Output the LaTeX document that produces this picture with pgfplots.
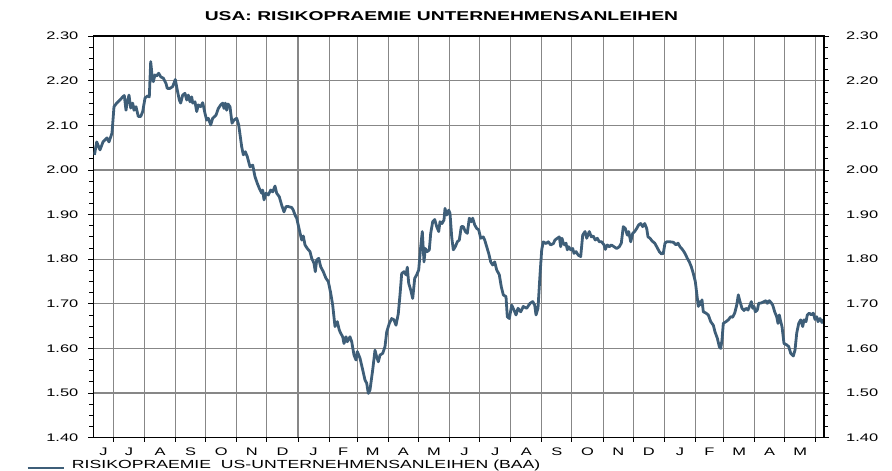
\documentclass[border=0pt]{standalone}
\usepackage{fontspec}
\setmainfont{Liberation Sans}
\usepackage{graphicx}
\usepackage{pgfplots}
\pgfplotsset{compat=1.18}
\definecolor{serie}{RGB}{62,94,120}
\definecolor{gridc}{RGB}{135,135,135}
\newcommand\hs[1]{\scalebox{1.5}[1]{#1}}
\begin{document}
\begin{tikzpicture}
\useasboundingbox (-93.5bp,-33.4bp) rectangle (798.5bp,437.6bp);
\begin{axis}[
  at={(0,0)}, anchor=south west,
  scale only axis, width=730.5bp, height=401.4bp,
  xmin=93.5, xmax=824, ymin=1.4, ymax=2.3,
  axis line style={line width=1.6bp, black},
  tick align=outside,
  xtick pos=bottom, ytick pos=left,
  xtick={103.4,128.9,160.0,190.6,221.2,251.8,282.5,313.6,343.2,372.8,403.4,434.0,464.6,495.2,526.3,556.9,587.5,618.2,648.8,679.9,709.5,739.1,769.7,800.3},
  xticklabels={\hs{J},\hs{J},\hs{A},\hs{S},\hs{O},\hs{N},\hs{D},\hs{J},\hs{F},\hs{M},\hs{A},\hs{M},\hs{J},\hs{J},\hs{A},\hs{S},\hs{O},\hs{N},\hs{D},\hs{J},\hs{F},\hs{M},\hs{A},\hs{M}},
  major x tick style={draw=none},
  minor xtick={113.3,144.4,175.5,205.6,236.7,266.9,298.0,329.1,357.2,388.3,418.4,449.5,479.6,510.7,541.8,571.9,603.1,633.2,664.3,695.4,723.5,754.6,784.7,815.8},
  xminorgrids=true, ymajorgrids=true,
  grid style={gridc, line width=1.1bp},
  minor grid style={gridc, line width=1.1bp},
  ytick={1.4,1.5,...,2.31},
  minor y tick num=3,
  major tick length=5bp, minor tick length=4bp,
  every tick/.style={black, line width=0.9bp},
  every minor tick/.style={black, line width=0.9bp},
  yticklabel={\hs{\pgfmathprintnumber[fixed,fixed zerofill,precision=2,assume math mode=true]{\tick}}},
  yticklabel style={font=\fontsize{11}{13}\selectfont, inner sep=0pt, anchor=east, xshift=-10bp},
  xticklabel style={font=\fontsize{11}{13}\selectfont, inner sep=0pt, anchor=north, yshift=-5bp},
  legend style={draw=none, fill=none, at={(-0.0924,-0.0683)}, anchor=west, inner sep=0pt,
    font=\fontsize{11.8}{14}\selectfont, column sep=7bp, nodes={inner sep=0pt}},
  legend cell align=left,
  legend image code/.code={\draw[#1] (0bp,-3bp) -- (36bp,-3bp); \path (0bp,3bp);},
]
\addplot[serie, line width=2.8bp, line join=round] coordinates {
(94.5,2.034)(96.7,2.063)(100,2.045)(103,2.063)(107,2.072)(109,2.063)(110.7,2.074)(112,2.083)(114,2.142)(116.7,2.150)(120,2.157)(122.7,2.164)(124.3,2.167)(126,2.134)(127,2.150)(129,2.168)(130.7,2.139)(132.7,2.150)(134,2.134)(136,2.142)(138.3,2.120)(140.7,2.120)(142.7,2.131)(145,2.161)(147.3,2.166)(149.3,2.164)(150.7,2.243)(152,2.213)(153.3,2.198)(155,2.213)(156.7,2.211)(158.7,2.217)(160.7,2.209)(163.3,2.206)(166,2.194)(167.3,2.183)(170,2.183)(172.7,2.187)(175.3,2.203)(177.3,2.179)(179.3,2.157)(180.7,2.150)(182.7,2.168)(185,2.172)(186.7,2.157)(188.3,2.168)(190,2.153)(191.7,2.164)(192.7,2.150)(195,2.153)(196.7,2.131)(198.3,2.146)(200.7,2.142)(202.7,2.151)(205,2.127)(206.7,2.112)(208.3,2.116)(210.7,2.101)(212.7,2.116)(216,2.123)(218.3,2.138)(220.7,2.146)(222.7,2.150)(224,2.138)(225.3,2.150)(226.7,2.134)(228,2.148)(230,2.142)(232,2.105)(234,2.112)(236.7,2.116)(238.7,2.101)(241.7,2.052)(243.3,2.034)(245.3,2.041)(247.3,2.030)(250,2.007)(252.7,2.011)(255,1.985)(257.3,1.970)(259.3,1.959)(261.7,1.948)(262.7,1.955)(264,1.933)(266,1.948)(268.3,1.944)(270.7,1.955)(272.7,1.951)(275,1.964)(276.7,1.948)(279.3,1.940)(281.7,1.921)(284,1.906)(286,1.918)(288.3,1.918)(291.7,1.916)(293.3,1.910)(295,1.899)(296.7,1.892)(299.3,1.866)(301.7,1.843)(303.3,1.852)(305,1.832)(307.3,1.824)(310,1.817)(311.7,1.802)(314,1.791)(315.3,1.772)(316.7,1.798)(318.7,1.802)(320.7,1.783)(323.3,1.772)(326,1.757)(328.3,1.750)(330.7,1.724)(332.7,1.697)(335,1.649)(337.3,1.660)(339.3,1.641)(340.7,1.634)(342.7,1.626)(344,1.611)(346,1.626)(347.3,1.615)(350,1.626)(351.7,1.615)(354,1.585)(356,1.574)(357.3,1.593)(360,1.578)(362.7,1.552)(365,1.529)(366.7,1.522)(368.3,1.499)(370,1.507)(372.7,1.552)(375,1.596)(376.7,1.581)(378.3,1.570)(380,1.585)(382.7,1.589)(385,1.604)(386.7,1.637)(389.3,1.656)(391.7,1.667)(394,1.664)(396,1.652)(398.3,1.678)(400,1.720)(401.7,1.768)(404,1.772)(406,1.765)(407.3,1.782)(408.7,1.746)(410.7,1.731)(412.7,1.712)(414.7,1.757)(416.7,1.765)(418.7,1.776)(420.7,1.828)(422.3,1.862)(424,1.794)(425.3,1.824)(427.3,1.817)(429.3,1.821)(430.7,1.858)(432.7,1.884)(434.7,1.889)(436.7,1.873)(438.7,1.862)(440,1.884)(442,1.880)(444,1.888)(445,1.914)(446.7,1.899)(448.7,1.910)(450,1.903)(451.7,1.850)(453.3,1.821)(455.3,1.828)(457.3,1.839)(459.3,1.843)(461.3,1.873)(463.3,1.873)(465.3,1.862)(467.3,1.858)(469.3,1.892)(471.3,1.884)(472.7,1.892)(474.7,1.877)(476.7,1.869)(478.7,1.866)(480.7,1.847)(483.3,1.850)(484.7,1.843)(486.7,1.828)(488.7,1.813)(490.7,1.794)(492.7,1.787)(494.7,1.794)(496.7,1.776)(499.3,1.765)(501.3,1.738)(503.3,1.720)(506,1.716)(507.3,1.671)(509.3,1.667)(511.7,1.697)(514,1.686)(516,1.675)(518,1.690)(520.7,1.682)(523.3,1.694)(526.7,1.690)(530,1.701)(532.7,1.705)(534.7,1.697)(536,1.675)(538,1.690)(540,1.765)(541.7,1.821)(543.3,1.839)(546,1.835)(548.3,1.839)(550.7,1.832)(553.3,1.835)(555,1.843)(557.3,1.847)(559.3,1.850)(560.7,1.828)(562,1.847)(563.3,1.836)(564.7,1.832)(566,1.836)(567.3,1.821)(568.7,1.828)(570.7,1.821)(572.7,1.824)(574,1.813)(576,1.817)(578.3,1.809)(580.7,1.806)(582.7,1.854)(585,1.862)(586.7,1.847)(589.3,1.862)(591.3,1.850)(593.3,1.852)(595.3,1.843)(597.3,1.847)(599.3,1.839)(601.7,1.839)(604,1.832)(605.3,1.822)(607.3,1.832)(609.3,1.828)(611.3,1.832)(614,1.828)(616.7,1.824)(619.3,1.828)(621.3,1.836)(623.3,1.873)(625.3,1.869)(627.3,1.854)(628.7,1.862)(630.7,1.839)(632.7,1.858)(634.7,1.862)(636.7,1.869)(638.7,1.877)(640.7,1.880)(642.7,1.873)(644.7,1.880)(646.7,1.869)(648,1.850)(650,1.847)(652,1.841)(654.7,1.836)(656.7,1.828)(659.3,1.817)(661.3,1.812)(663.3,1.813)(665,1.836)(666.7,1.839)(670,1.839)(673.3,1.838)(676,1.832)(678,1.836)(680,1.828)(682.7,1.821)(685,1.813)(687.3,1.802)(689.3,1.794)(691.3,1.783)(693.3,1.768)(695.3,1.750)(696.7,1.724)(698.3,1.694)(700,1.705)(701.3,1.697)(702,1.709)(703.3,1.682)(706,1.679)(708.3,1.675)(710.7,1.660)(713.3,1.652)(715,1.637)(717.3,1.623)(719.3,1.604)(720.7,1.600)(722,1.619)(723.3,1.656)(726,1.660)(728.3,1.664)(730.7,1.671)(732.7,1.670)(734.7,1.679)(736.7,1.697)(738.3,1.720)(740,1.705)(742,1.690)(744,1.685)(746,1.690)(748,1.686)(750,1.697)(751.3,1.705)(752.7,1.690)(754,1.694)(755.3,1.682)(757.3,1.686)(758.7,1.701)(761.3,1.702)(764,1.705)(766,1.707)(767.3,1.701)(769.3,1.707)(771.3,1.702)(772.7,1.697)(774.7,1.682)(776.7,1.671)(778,1.656)(779.3,1.675)(780.7,1.660)(782,1.649)(784,1.611)(786.7,1.608)(788.7,1.604)(790.7,1.589)(793.3,1.583)(795,1.596)(796.7,1.634)(798.7,1.656)(800.7,1.664)(802.7,1.649)(804,1.664)(806,1.660)(807.3,1.675)(809.3,1.679)(811.3,1.675)(813.3,1.679)(815,1.665)(816.7,1.671)(818,1.660)(820,1.667)(822,1.658)(823.5,1.665)
};
\addlegendentry{\hs{RISIKOPRAEMIE\ \ US-UNTERNEHMENSANLEIHEN (BAA)}}
\end{axis}
\begin{axis}[
  at={(0,0)}, anchor=south west,
  scale only axis, width=730.5bp, height=401.4bp,
  xmin=93.5, xmax=824, ymin=1.4, ymax=2.3,
  axis line style={line width=1.6bp, black},
  axis x line=none, axis y line*=right,
  tick align=outside,
  ytick={1.4,1.5,...,2.31},
  minor y tick num=3,
  major tick length=5bp, minor tick length=4bp,
  every tick/.style={black, line width=0.9bp},
  every minor tick/.style={black, line width=0.9bp},
  yticklabel={\hs{\pgfmathprintnumber[fixed,fixed zerofill,precision=2,assume math mode=true]{\tick}}},
  yticklabel style={font=\fontsize{11}{13}\selectfont, inner sep=0pt, anchor=west, xshift=17bp},
]
\end{axis}
\node[anchor=base, inner sep=0pt, font=\fontsize{12.9}{15}\selectfont\bfseries] at (348bp,416.9bp) {\hs{USA: RISIKOPRAEMIE UNTERNEHMENSANLEIHEN}};
\end{tikzpicture}
\end{document}
